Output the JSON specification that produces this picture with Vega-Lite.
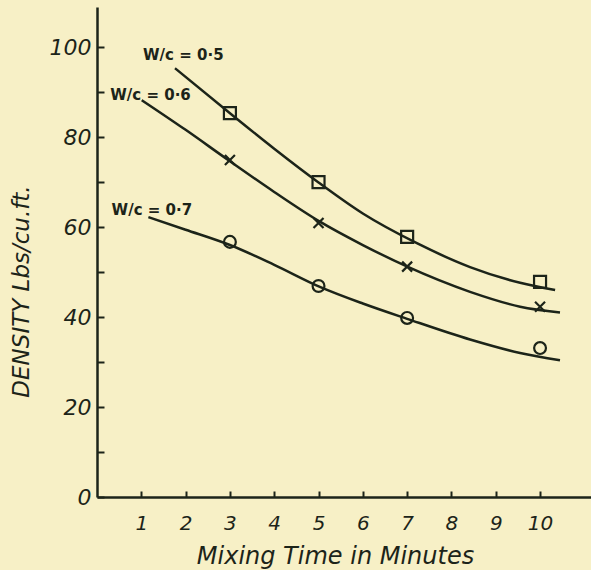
{
  "$schema": "https://vega.github.io/schema/vega-lite/v6.json",
  "autosize": "none",
  "width": 494,
  "height": 490,
  "padding": {"left": 97, "top": 7, "right": 0, "bottom": 73},
  "background": "#f7f0c6",
  "config": {
    "view": {"stroke": null},
    "axis": {
      "domainColor": "#1c2419", "tickColor": "#1c2419", "labelColor": "#1c2419", "titleColor": "#1c2419",
      "grid": false, "labelFont": "DejaVu Sans", "titleFont": "DejaVu Sans",
      "labelFontStyle": "italic", "titleFontStyle": "italic", "domainWidth": 2.5, "tickWidth": 2
    }
  },
  "datasets": {
    "curves": [
      {"s": "0.5", "x": 1.76, "y": 95.3}, {"s": "0.5", "x": 3.05, "y": 84.9}, {"s": "0.5", "x": 4.0, "y": 77.4},
      {"s": "0.5", "x": 5.0, "y": 69.9}, {"s": "0.5", "x": 6.0, "y": 63.0}, {"s": "0.5", "x": 7.22, "y": 56.4},
      {"s": "0.5", "x": 8.42, "y": 51.1}, {"s": "0.5", "x": 9.55, "y": 47.6}, {"s": "0.5", "x": 10.34, "y": 46.0},
      {"s": "0.6", "x": 1.01, "y": 88.2}, {"s": "0.6", "x": 2.0, "y": 81.6}, {"s": "0.6", "x": 2.96, "y": 74.9},
      {"s": "0.6", "x": 4.0, "y": 67.8}, {"s": "0.6", "x": 5.03, "y": 61.2}, {"s": "0.6", "x": 6.0, "y": 56.0},
      {"s": "0.6", "x": 6.98, "y": 51.3}, {"s": "0.6", "x": 8.42, "y": 45.6}, {"s": "0.6", "x": 9.55, "y": 42.3},
      {"s": "0.6", "x": 10.45, "y": 41.0},
      {"s": "0.7", "x": 1.16, "y": 62.2}, {"s": "0.7", "x": 2.0, "y": 59.4}, {"s": "0.7", "x": 3.0, "y": 56.0},
      {"s": "0.7", "x": 4.0, "y": 51.6}, {"s": "0.7", "x": 5.03, "y": 46.7}, {"s": "0.7", "x": 6.0, "y": 43.0},
      {"s": "0.7", "x": 7.0, "y": 39.6}, {"s": "0.7", "x": 8.42, "y": 35.0}, {"s": "0.7", "x": 9.55, "y": 32.0},
      {"s": "0.7", "x": 10.45, "y": 30.4}
    ],
    "points": [
      {"s": "0.5", "x": 3, "y": 85.3}, {"s": "0.5", "x": 5, "y": 70.0}, {"s": "0.5", "x": 7, "y": 57.8}, {"s": "0.5", "x": 10, "y": 47.8},
      {"s": "0.6", "x": 3, "y": 74.9}, {"s": "0.6", "x": 5, "y": 60.9}, {"s": "0.6", "x": 7, "y": 51.2}, {"s": "0.6", "x": 10, "y": 42.3},
      {"s": "0.7", "x": 3, "y": 56.7}, {"s": "0.7", "x": 5, "y": 46.9}, {"s": "0.7", "x": 7, "y": 39.8}, {"s": "0.7", "x": 10, "y": 33.1}
    ],
    "labels": [
      {"label": "W/c = 0·5", "x": 1.04, "y": 98.2},
      {"label": "W/c = 0·6", "x": 0.3, "y": 89.3},
      {"label": "W/c = 0·7", "x": 0.33, "y": 63.8}
    ]
  },
  "encoding": {
    "x": {
      "field": "x", "type": "quantitative",
      "scale": {"domain": [0, 11.15], "nice": false, "zero": false},
      "axis": {
        "values": [1, 2, 3, 4, 5, 6, 7, 8, 9, 10], "tickSize": -6, "labelPadding": 22,
        "labelFontSize": 20, "title": "Mixing Time in Minutes", "titleFontSize": 24,
        "titleFontWeight": "normal", "titleX": 238, "titleY": 59, "titleBaseline": "middle", "titleAnchor": null
      }
    },
    "y": {
      "field": "y", "type": "quantitative",
      "scale": {"domain": [0, 108.9], "nice": false},
      "axis": {
        "values": [0, 10, 20, 30, 40, 50, 60, 70, 80, 90, 100], "tickSize": -7, "labelPadding": 13,
        "labelExpr": "datum.value % 20 == 0 ? datum.label : ''",
        "labelFontSize": 22, "title": "DENSITY  Lbs/cu.ft.", "titleFontSize": 23, "titleFontWeight": "normal",
        "titleX": -76, "titleY": 284, "titleBaseline": "middle", "titleAlign": "center", "titleAnchor": null
      }
    }
  },
  "layer": [
    {
      "data": {"name": "curves"},
      "mark": {"type": "line", "interpolate": "monotone", "color": "#1c2419", "strokeWidth": 2.5},
      "encoding": {"detail": {"field": "s", "type": "nominal"}}
    },
    {
      "data": {"name": "points"},
      "transform": [{"filter": "datum.s == '0.5'"}],
      "mark": {"type": "point", "shape": "square", "size": 144, "filled": false, "strokeWidth": 2.2, "color": "#1c2419", "opacity": 1}
    },
    {
      "data": {"name": "points"},
      "transform": [{"filter": "datum.s == '0.6'"}],
      "mark": {"type": "point", "shape": "M-1,-1L1,1M1,-1L-1,1", "size": 100, "filled": false, "strokeWidth": 2.2, "color": "#1c2419", "opacity": 1}
    },
    {
      "data": {"name": "points"},
      "transform": [{"filter": "datum.s == '0.7'"}],
      "mark": {"type": "point", "shape": "circle", "size": 140, "filled": false, "strokeWidth": 2.2, "color": "#1c2419", "opacity": 1}
    },
    {
      "data": {"name": "labels"},
      "mark": {"type": "text", "align": "left", "baseline": "middle", "font": "DejaVu Sans", "fontWeight": "bold", "fontSize": 15, "color": "#1c2419"},
      "encoding": {"text": {"field": "label", "type": "nominal"}}
    }
  ]
}
